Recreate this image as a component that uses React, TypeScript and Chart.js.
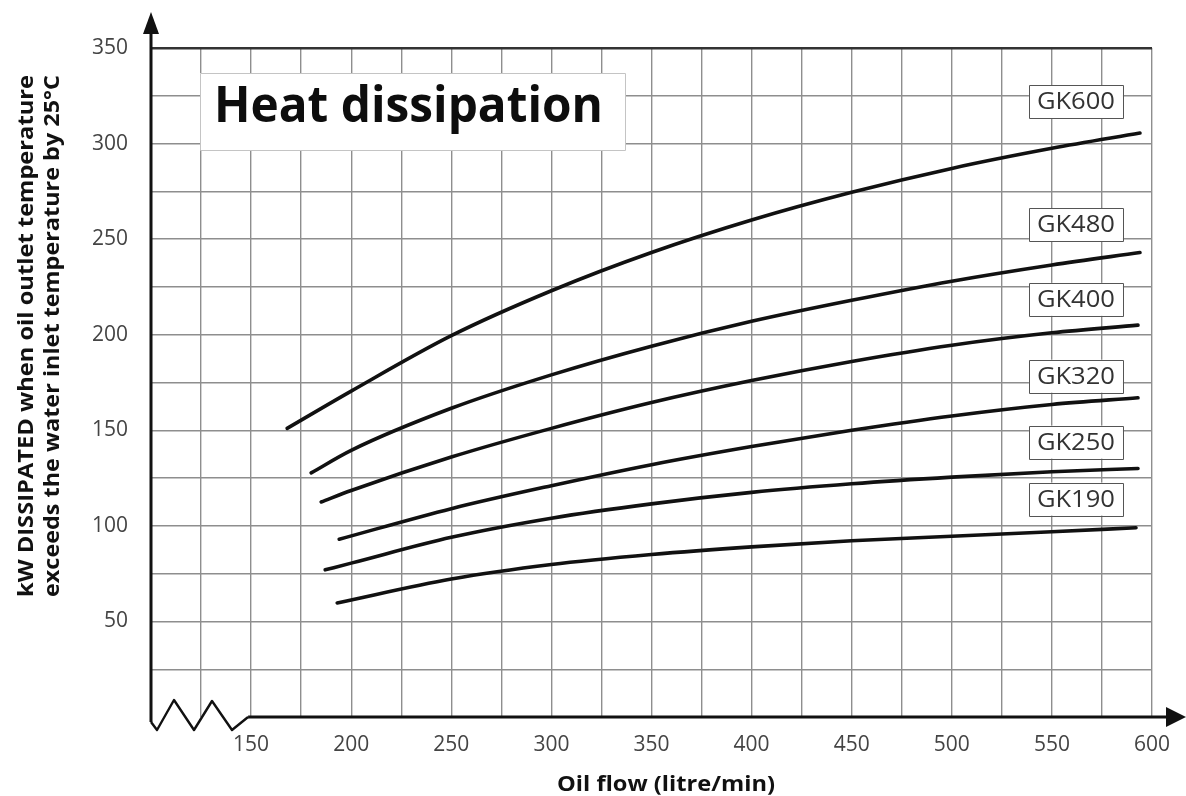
import React, { useEffect, useRef } from 'react';
import { Chart, registerables } from 'chart.js';

Chart.register(...registerables);

// ---- data ----
const seriesNames = ['GK600', 'GK480', 'GK400', 'GK320', 'GK250', 'GK190'];

const gk600Flow = [168, 200, 250, 300, 350, 400, 450, 500, 550, 594];
const gk600Kw = [151, 170.5, 199.5, 223, 243, 260, 274.5, 287, 297.5, 305.5];

const gk480Flow = [180, 200, 250, 300, 350, 400, 450, 500, 550, 594];
const gk480Kw = [127.7, 139.5, 161.5, 179, 194, 207, 218, 228, 236.5, 243];

const gk400Flow = [185, 200, 250, 300, 350, 400, 450, 500, 550, 593];
const gk400Kw = [112.5, 118.5, 136, 151, 164.5, 176, 186, 194.5, 201, 205];

const gk320Flow = [194, 250, 300, 350, 400, 450, 500, 550, 593];
const gk320Kw = [93, 109, 121, 132, 141.5, 150, 157.5, 163.5, 167];

const gk250Flow = [187, 200, 250, 300, 350, 400, 450, 500, 550, 593];
const gk250Kw = [77, 80.5, 94, 104, 111.5, 117.5, 122, 125.5, 128.3, 130];

const gk190Flow = [193, 250, 300, 350, 400, 450, 500, 550, 592];
const gk190Kw = [59.7, 72.2, 79.8, 85, 89, 92.2, 94.6, 96.9, 99];

const seriesFlows = [gk600Flow, gk480Flow, gk400Flow, gk320Flow, gk250Flow, gk190Flow];
const seriesKw = [gk600Kw, gk480Kw, gk400Kw, gk320Kw, gk250Kw, gk190Kw];

// axis ranges / ticks
const xMin = 100;
const xMax = 600;
const yMin = 0;
const yMax = 350;
const gridStep = 25;
const xTickLabels = [150, 200, 250, 300, 350, 400, 450, 500, 550, 600];
const yTickLabels = [50, 100, 150, 200, 250, 300, 350];

// texts
const chartTitle = 'Heat dissipation';
const xTitle = 'Oil flow (litre/min)';
const yTitleLines = ['kW DISSIPATED when oil outlet temperature', 'exceeds the water inlet temperature by 25°C'];

// label placement (in data units, separate from the data)
const labelFlow = 562;
const labelKw = [322, 257.6, 218.5, 178.3, 143.8, 114];

const GRID = '#8e8e8e';

function fitText(ctx: CanvasRenderingContext2D, text: string, x: number, y: number, font: string, targetW: number) {
  ctx.save();
  ctx.font = font;
  const w = ctx.measureText(text).width;
  const s = targetW / w;
  ctx.translate(x, y);
  ctx.scale(s, 1);
  ctx.textAlign = 'center';
  ctx.fillText(text, 0, 0);
  ctx.restore();
}

const decorPlugin = {
  id: 'decor',
  afterDraw(chart: any) {
    const ctx: CanvasRenderingContext2D = chart.ctx;
    const xs = chart.scales.x;
    const ys = chart.scales.y;
    const ax = xs.getPixelForValue(xMin);
    const ay = ys.getPixelForValue(yMin);
    const x150 = xs.getPixelForValue(150);

    ctx.save();
    ctx.strokeStyle = '#111';
    ctx.fillStyle = '#111';
    ctx.lineCap = 'butt';
    ctx.lineJoin = 'miter';

    // y axis
    ctx.lineWidth = 3;
    ctx.beginPath();
    ctx.moveTo(ax, ay + 5);
    ctx.lineTo(ax, 30);
    ctx.stroke();
    ctx.beginPath();
    ctx.moveTo(ax, 12);
    ctx.lineTo(ax - 8, 34);
    ctx.lineTo(ax + 8, 34);
    ctx.closePath();
    ctx.fill();

    // x axis
    ctx.beginPath();
    ctx.moveTo(x150 - 3, ay);
    ctx.lineTo(1170, ay);
    ctx.stroke();
    ctx.beginPath();
    ctx.moveTo(1186, ay);
    ctx.lineTo(1166, ay - 10);
    ctx.lineTo(1166, ay + 10);
    ctx.closePath();
    ctx.fill();

    // zigzag break
    ctx.lineWidth = 2.4;
    ctx.lineJoin = 'round';
    ctx.beginPath();
    ctx.moveTo(ax, ay + 5);
    ctx.lineTo(ax + 6, ay + 13);
    ctx.lineTo(ax + 23, ay - 17);
    ctx.lineTo(ax + 43, ay + 13);
    ctx.lineTo(ax + 61, ay - 16);
    ctx.lineTo(ax + 81, ay + 13);
    ctx.lineTo(x150 - 3, ay);
    ctx.stroke();

    // title box
    ctx.fillStyle = '#fff';
    ctx.fillRect(200, 73, 425, 77);
    ctx.strokeStyle = '#c4c4c4';
    ctx.lineWidth = 1;
    ctx.strokeRect(200.5, 73.5, 425, 77);
    ctx.fillStyle = '#0d0d0d';
    ctx.textBaseline = 'alphabetic';
    fitText(ctx, chartTitle, 408.5, 122, 'bold 50px "Open Sans"', 389);

    // series labels
    const lx = xs.getPixelForValue(labelFlow);
    seriesNames.forEach((name, i) => {
      const ly = ys.getPixelForValue(labelKw[i]);
      ctx.fillStyle = '#fff';
      ctx.fillRect(lx - 47, ly - 16.5, 94, 33);
      ctx.strokeStyle = '#555';
      ctx.lineWidth = 1;
      ctx.strokeRect(Math.round(lx - 47) + 0.5, Math.round(ly - 16.5) + 0.5, 94, 33);
      ctx.fillStyle = '#333';
      ctx.textBaseline = 'middle';
      fitText(ctx, name, lx, ly + 1, '23px "Open Sans"', 78);
    });

    // x title
    ctx.fillStyle = '#111';
    ctx.textBaseline = 'alphabetic';
    fitText(ctx, xTitle, 666, 791, 'bold 21px "Open Sans"', 218);

    // y title (two lines)
    const yCenter = 336;
    const baselines = [33, 59];
    yTitleLines.forEach((line, i) => {
      ctx.save();
      ctx.translate(baselines[i], yCenter);
      ctx.rotate(-Math.PI / 2);
      fitText(ctx, line, 0, 0, 'bold 21px "Open Sans"', 522);
      ctx.restore();
    });

    ctx.restore();
  },
};

export default function App() {
  const ref = useRef<HTMLCanvasElement | null>(null);

  useEffect(() => {
    document.body.style.margin = '0';
    const canvas = ref.current;
    if (!canvas) return;

    const datasets = seriesNames.map((name, i) => ({
      label: name,
      data: seriesFlows[i].map((f, j) => ({ x: f, y: seriesKw[i][j] })),
      borderColor: '#111',
      borderWidth: 3.6,
      pointRadius: 0,
      fill: false,
      cubicInterpolationMode: 'monotone' as const,
      borderCapStyle: 'round' as const,
    }));

    const chart = new Chart(canvas, {
      type: 'line',
      data: { datasets },
      plugins: [decorPlugin],
      options: {
        animation: false,
        responsive: false,
        devicePixelRatio: 1,
        layout: { padding: { left: 8, top: 48, right: 34, bottom: 0 } },
        plugins: {
          legend: { display: false },
          tooltip: { enabled: false },
          title: { display: false },
        },
        scales: {
          x: {
            type: 'linear',
            min: xMin,
            max: xMax,
            afterFit: (scale: any) => {
              scale.height = 79;
            },
            ticks: {
              stepSize: gridStep,
              autoSkip: false,
              maxRotation: 0,
              padding: 15,
              color: '#444',
              font: { family: 'Open Sans', size: 21 },
              callback: (v: any) => (xTickLabels.includes(Number(v)) ? String(v) : ''),
            },
            grid: {
              drawTicks: false,
              color: (c: any) => (c.tick && c.tick.value === xMin ? 'rgba(0,0,0,0)' : GRID),
              lineWidth: 1.4,
            },
            border: { display: false },
          },
          y: {
            type: 'linear',
            min: yMin,
            max: yMax,
            afterFit: (scale: any) => {
              scale.width = 143;
            },
            ticks: {
              stepSize: gridStep,
              autoSkip: false,
              padding: 23,
              color: '#444',
              font: { family: 'Open Sans', size: 21 },
              callback: (v: any) => (yTickLabels.includes(Number(v)) ? String(v) : ''),
            },
            grid: {
              drawTicks: false,
              color: (c: any) => {
                const v = c.tick ? c.tick.value : null;
                if (v === yMin) return 'rgba(0,0,0,0)';
                if (v === yMax) return '#333';
                return GRID;
              },
              lineWidth: (c: any) => (c.tick && c.tick.value === yMax ? 2.6 : 1.4),
            },
            border: { display: false },
          },
        },
      },
    });

    return () => {
      chart.destroy();
    };
  }, []);

  return (
    <div style={{ width: 1186, height: 796, background: '#fff' }}>
      <canvas ref={ref} width={1186} height={796} style={{ display: 'block', width: 1186, height: 796 }} />
    </div>
  );
}
